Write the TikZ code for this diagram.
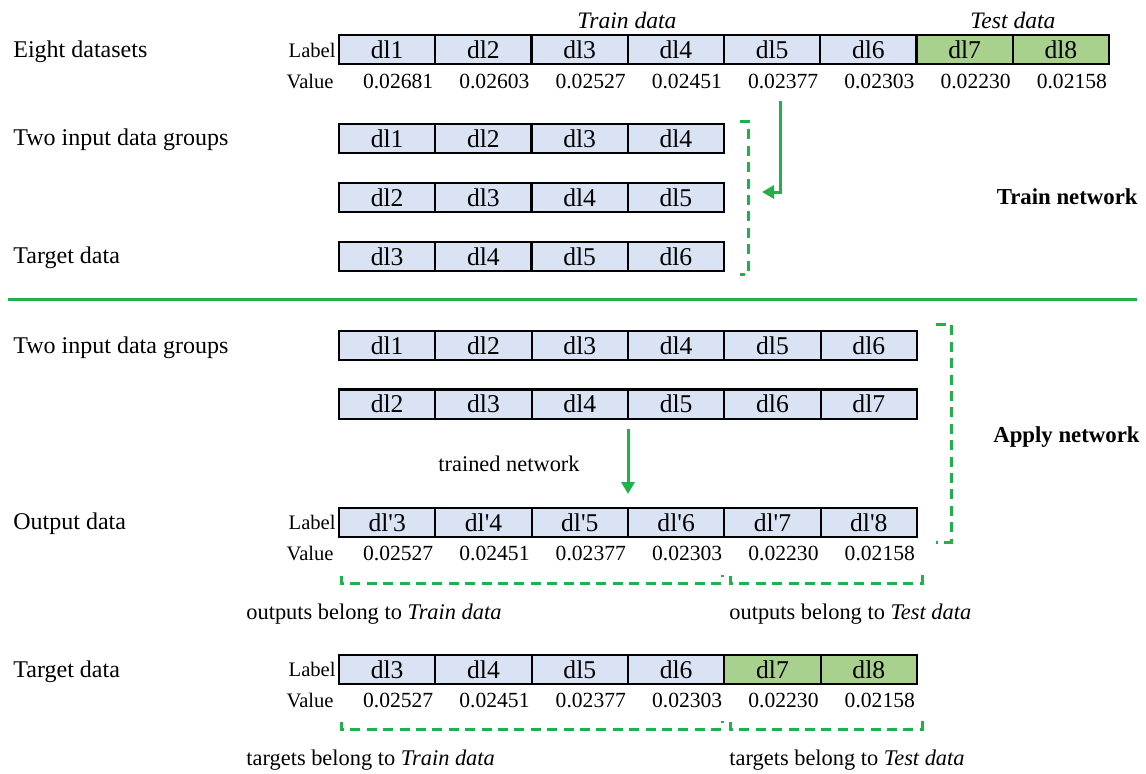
\documentclass[tikz,border=0pt]{standalone}
\usepackage{fontspec}
\setmainfont{Liberation Serif}
\usetikzlibrary{arrows.meta}

\definecolor{cellblue}{RGB}{218,227,243}
\definecolor{cellgreen}{RGB}{169,209,142}
\definecolor{linegreen}{RGB}{33,177,75}

\tikzset{
  cell/.style={draw=black, line width=1.1pt, fill=cellblue, minimum width=48.15pt,
    minimum height=14.6pt, inner sep=0pt, outer sep=0pt, font=\fontsize{12.8pt}{14pt}\selectfont},
  rowname/.style={anchor=base west, inner sep=0pt, font=\fontsize{12pt}{14pt}\selectfont},
  valtext/.style={inner sep=0pt, font=\fontsize{10.8pt}{12pt}\selectfont},
  tagtext/.style={anchor=east, inner sep=0pt, font=\fontsize{10.3pt}{12pt}\selectfont},
  note/.style={inner sep=0pt, font=\fontsize{11.2pt}{13pt}\selectfont},
  heading/.style={inner sep=0pt, font=\fontsize{11.8pt}{13pt}\selectfont\itshape},
  phase/.style={anchor=base east, inner sep=0pt, font=\fontsize{11.4pt}{13pt}\selectfont\bfseries},
  bracket/.style={draw=linegreen, line width=1.5pt, dash pattern=on 5pt off 3.2pt},
  flow/.style={draw=linegreen, line width=1.5pt, -{Triangle[length=6pt,width=6.5pt]}},
}

\begin{document}
\begin{tikzpicture}[x=0.5pt, y=-0.5pt]
\useasboundingbox (0,0) rectangle (1146,773);

% ---------- training part ----------
\node[heading] (trainhd) at (627,20) {Train data};
\node[heading] (testhd) at (1013,20) {Test data};

\node[rowname] (n1) at (13,57) {Eight datasets};
\node[tagtext] (lab1) at (336,50) {Label};
\node[tagtext] (val1) at (334,81) {Value};
\foreach \t/\c/\v [count=\i] in {dl1/cellblue/0.02681, dl2/cellblue/0.02603,
    dl3/cellblue/0.02527, dl4/cellblue/0.02451, dl5/cellblue/0.02377,
    dl6/cellblue/0.02303, dl7/cellgreen/0.02230, dl8/cellgreen/0.02158} {
  \node[cell, fill=\c] (a\i) at ({339+96.25*(\i-0.5)},49.5) {\t};
  \node[valtext] (av\i) at ({350+96.25*(\i-0.5)},81) {\v};
}

\node[rowname] (n2) at (13,145) {Two input data groups};
\foreach \t [count=\i] in {dl1,dl2,dl3,dl4}
  \node[cell] (b\i) at ({339+96.25*(\i-0.5)},138.5) {\t};
\foreach \t [count=\i] in {dl2,dl3,dl4,dl5}
  \node[cell] (c\i) at ({339+96.25*(\i-0.5)},197.5) {\t};
\node[rowname] (n3) at (13,263) {Target data};
\foreach \t [count=\i] in {dl3,dl4,dl5,dl6}
  \node[cell] (d\i) at ({339+96.25*(\i-0.5)},256.5) {\t};

\draw[bracket] (740,121) -- (748,121) -- (748,274) -- (740,274);
\coordinate (f1s) at (780,101);
\coordinate (f1e) at (762,192);
\draw[flow] (f1s) |- (f1e);
\node[phase] (trainnet) at (1138,204) {Train network};

% separator
\draw[linegreen, line width=1.5pt] (8,299) -- (1137,299);

% ---------- application part ----------
\node[rowname] (n4) at (13,353) {Two input data groups};
\foreach \t [count=\i] in {dl1,dl2,dl3,dl4,dl5,dl6}
  \node[cell] (e\i) at ({339+96.33*(\i-0.5)},345.5) {\t};
\foreach \t [count=\i] in {dl2,dl3,dl4,dl5,dl6,dl7}
  \node[cell] (g\i) at ({339+96.33*(\i-0.5)},404) {\t};

\node[note] (trained) at (509,464) {trained network};
\coordinate (f2s) at (628,429);
\coordinate (f2e) at (628,494);
\draw[flow] (f2s) -- (f2e);

\node[rowname] (n5) at (13,529) {Output data};
\node[tagtext] (lab2) at (336,522.5) {Label};
\node[tagtext] (val2) at (334,553) {Value};
\foreach \t/\v [count=\i] in {3/0.02527, 4/0.02451, 5/0.02377, 6/0.02303, 7/0.02230, 8/0.02158} {
  \node[cell] (o\i) at ({339+96.33*(\i-0.5)},522.5) {dl\textquotesingle\t};
  \node[valtext] (ov\i) at ({350+96.33*(\i-0.5)},553) {\v};
}

\draw[bracket] (936,324) -- (951,324) -- (951,542) -- (936,542);
\node[phase] (applynet) at (1140,442) {Apply network};

\draw[bracket] (341,576) -- (341,583) -- (722,583) -- (722,575);
\draw[bracket] (730,576) -- (730,583) -- (922,583) -- (922,575);
\node[note, anchor=base west] (otr) at (246,619) {outputs belong to \textit{Train data}};
\node[note, anchor=base west] (ote) at (729,619) {outputs belong to \textit{Test data}};

\node[rowname] (n6) at (13,677) {Target data};
\node[tagtext] (lab3) at (336,669.5) {Label};
\node[tagtext] (val3) at (334,700) {Value};
\foreach \t/\c/\v [count=\i] in {dl3/cellblue/0.02527, dl4/cellblue/0.02451,
    dl5/cellblue/0.02377, dl6/cellblue/0.02303, dl7/cellgreen/0.02230, dl8/cellgreen/0.02158} {
  \node[cell, fill=\c] (t\i) at ({339+96.33*(\i-0.5)},669.5) {\t};
  \node[valtext] (tv\i) at ({350+96.33*(\i-0.5)},700) {\v};
}

\draw[bracket] (341,722) -- (341,729) -- (722,729) -- (722,721);
\draw[bracket] (730,722) -- (730,729) -- (922,729) -- (922,721);
\node[note, anchor=base west] (ttr) at (246,765) {targets belong to \textit{Train data}};
\node[note, anchor=base west] (tte) at (729,765) {targets belong to \textit{Test data}};
\end{tikzpicture}
\end{document}
